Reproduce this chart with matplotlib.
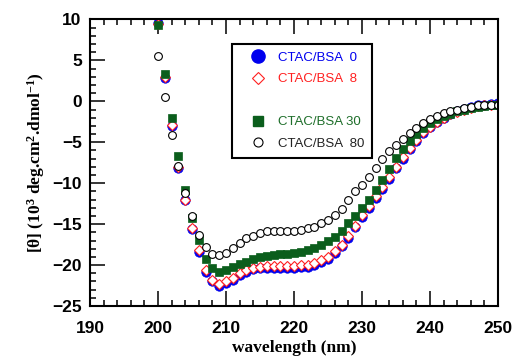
import numpy as np
import matplotlib
matplotlib.use('Agg')
import matplotlib.pyplot as plt
from matplotlib.lines import Line2D
from matplotlib.ticker import MultipleLocator

plt.rcParams['mathtext.fontset'] = 'custom'
plt.rcParams['mathtext.rm'] = 'Liberation Serif:bold'
plt.rcParams['mathtext.bf'] = 'Liberation Serif:bold'
plt.rcParams['mathtext.it'] = 'Liberation Serif:bold:italic'

wavelength = np.arange(200, 251)

theta_0 = [9.6, 2.9, -3.0, -8.1, -12.1, -15.6, -18.4, -20.8, -22.0, -22.5,
           -22.2, -21.8, -21.2, -20.8, -20.5, -20.4, -20.3, -20.3, -20.3, -20.3,
           -20.3, -20.2, -20.2, -20.0, -19.6, -19.2, -18.5, -17.7, -16.7, -15.4,
           -14.1, -13.0, -11.8, -10.7, -9.5, -8.2, -7.0, -5.8, -4.8, -3.9,
           -3.1, -2.5, -2.0, -1.6, -1.2, -0.9, -0.7, -0.5, -0.4, -0.3, -0.2]

theta_8 = [9.4, 3.0, -2.9, -8.0, -12.0, -15.5, -18.2, -20.6, -21.8, -22.3,
           -22.0, -21.6, -21.0, -20.6, -20.3, -20.2, -20.1, -20.1, -20.1, -20.1,
           -20.1, -20.0, -20.0, -19.8, -19.4, -19.0, -18.3, -17.5, -16.5, -15.2,
           -13.9, -12.8, -11.6, -10.5, -9.3, -8.0, -6.8, -5.7, -4.7, -3.8,
           -3.1, -2.5, -2.0, -1.6, -1.3, -1.0, -0.8, -0.6, -0.5, -0.4, -0.3]

theta_30 = [9.3, 3.3, -2.0, -6.7, -10.8, -14.3, -16.9, -19.3, -20.4, -20.8,
            -20.6, -20.2, -19.9, -19.6, -19.3, -19.0, -18.9, -18.8, -18.7, -18.6,
            -18.5, -18.4, -18.2, -17.9, -17.5, -17.1, -16.6, -15.9, -14.9, -14.0,
            -13.0, -12.0, -10.8, -9.6, -8.3, -6.9, -5.8, -4.8, -4.0, -3.3,
            -2.7, -2.2, -1.8, -1.5, -1.2, -1.0, -0.8, -0.7, -0.6, -0.5, -0.45]

theta_80 = [5.5, 0.5, -4.1, -7.9, -11.2, -14.0, -16.3, -17.8, -18.6, -18.8,
            -18.5, -17.9, -17.3, -16.7, -16.4, -16.1, -15.9, -15.9, -15.8, -15.8,
            -15.8, -15.7, -15.5, -15.3, -14.9, -14.5, -13.9, -13.1, -12.1, -11.0,
            -10.2, -9.2, -8.2, -7.1, -6.1, -5.3, -4.6, -3.9, -3.3, -2.7,
            -2.2, -1.8, -1.4, -1.2, -1.0, -0.8, -0.7, -0.5, -0.5, -0.45, -0.45]

labels = ['CTAC/BSA  0', 'CTAC/BSA  8', 'CTAC/BSA 30', 'CTAC/BSA  80']

BLUE = '#0000ee'
RED = '#ff2020'
GREEN = '#0b5e1c'

fig = plt.figure(figsize=(5.15, 3.6), dpi=100)
ax = fig.add_axes([0.1748, 0.15, 0.7922, 0.796])

ax.plot(wavelength, theta_0, ls='none', marker='o', ms=6.8, mfc=BLUE, mec=BLUE, mew=0.5)
ax.plot(wavelength, theta_8, ls='none', marker='D', ms=4.8, mfc='white', mec=RED, mew=0.8)
ax.plot(wavelength, theta_30, ls='none', marker='s', ms=5.4, mfc=GREEN, mec=GREEN, mew=0.5)
ax.plot(wavelength, theta_80, ls='none', marker='o', ms=5.6, mfc='white', mec='black', mew=0.8)

ax.set_xlim(190, 250)
ax.set_ylim(-25, 10)
ax.xaxis.set_major_locator(MultipleLocator(10))
ax.xaxis.set_minor_locator(MultipleLocator(2))
ax.yaxis.set_major_locator(MultipleLocator(5))
ax.yaxis.set_minor_locator(MultipleLocator(1))
ax.tick_params(which='both', direction='in', top=True, right=False, width=1.1)
ax.tick_params(which='major', length=10.5)
ax.tick_params(which='minor', length=4)
ax.tick_params(axis='x', pad=11)
ax.tick_params(axis='y', pad=6)
for s in ax.spines.values():
    s.set_linewidth(1.5)
for lab in ax.get_xticklabels() + ax.get_yticklabels():
    lab.set_fontfamily('Liberation Sans')
    lab.set_fontweight('bold')
    lab.set_fontsize(12.5)

ax.set_xlabel('wavelength (nm)', family='Liberation Serif', weight='bold', fontsize=12.5, labelpad=3)
ax.set_ylabel('[θ] (10$^{3}$ deg.cm$^{2}$.dmol$^{-1}$)',
              family='Liberation Serif', weight='bold', fontsize=12.5, labelpad=4)

handles = [
    Line2D([], [], ls='none', marker='o', ms=9.5, mfc=BLUE, mec=BLUE),
    Line2D([], [], ls='none', marker='D', ms=6.5, mfc='white', mec=RED, mew=0.8),
    Line2D([], [], ls='none', marker=None),
    Line2D([], [], ls='none', marker='s', ms=6.5, mfc=GREEN, mec=GREEN),
    Line2D([], [], ls='none', marker='o', ms=6.5, mfc='white', mec='black', mew=0.8),
]
leg_labels = [labels[0], labels[1], ' ', labels[2], labels[3]]
leg = ax.legend(handles, leg_labels, loc='upper left', bbox_to_anchor=(0.348, 0.915),
                borderaxespad=0, fancybox=False, edgecolor='black', framealpha=1,
                prop={'family': 'Liberation Sans', 'size': 9.5},
                borderpad=0.6, handlelength=2.8, handletextpad=0.1, labelspacing=0.7,
                labelcolor=[BLUE, RED, 'black', '#1e6e2a', '#222222'])
leg.get_frame().set_linewidth(1.5)

fig.savefig('out.png', dpi=100)
